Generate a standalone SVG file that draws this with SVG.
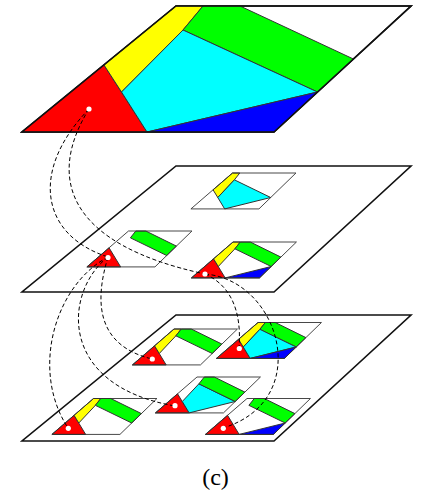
<svg xmlns="http://www.w3.org/2000/svg" xmlns:xlink="http://www.w3.org/1999/xlink" width="423" height="492" viewBox="0 0 423 492">
<style>
.plane{fill:#fff;stroke:#111;stroke-width:1.6;stroke-linejoin:miter}
.planeline{fill:none;stroke:#111;stroke-width:1.6;stroke-linejoin:miter}
.reg{stroke:#333;stroke-width:1;stroke-linejoin:round}
.frame{fill:none;stroke:#333;stroke-width:0.9}
.R{fill:#ff0000}.Y{fill:#ffff00}.G{fill:#00ff00}.C{fill:#00ffff}.B{fill:#0000ff}
.dot{fill:#fff;stroke:none}
.link{fill:none;stroke:#000;stroke-width:1;stroke-dasharray:4 2.5}
.cap{font-family:"Liberation Serif","Times New Roman",serif;font-size:24px;fill:#000}
</style>
<defs>
<path id="pQ" d="M0,0 L235,0 L98,126 L-154,126 Z" vector-effect="non-scaling-stroke"/>
<path id="pR" d="M-154,126 L-72,59 L-29,126 Z" vector-effect="non-scaling-stroke"/>
<path id="pY" d="M0,0 L27,0 L7,24 L-54.5,86 L-72,59 Z" vector-effect="non-scaling-stroke"/>
<path id="pG" d="M27,0 L64,0 L177.4,53 L141.5,86 L7,24 Z" vector-effect="non-scaling-stroke"/>
<path id="pC" d="M7,24 L141.5,86 L-29,126 L-54.5,86 Z" vector-effect="non-scaling-stroke"/>
<path id="pB" d="M-29,126 L141.5,86 L98,126 Z" vector-effect="non-scaling-stroke"/>
</defs>

<g id="layer-top" transform="translate(176,6)">
  <use href="#pQ" class="plane"/>
  <use href="#pR" class="R reg"/>
  <use href="#pY" class="Y reg"/>
  <use href="#pG" class="G reg"/>
  <use href="#pC" class="C reg"/>
  <use href="#pB" class="B reg"/>
  <use href="#pQ" class="planeline"/>
</g>

<g id="layer-middle" transform="translate(176,166)">
  <use href="#pQ" class="plane"/>
</g>

<g id="layer-bottom" transform="translate(176,315)">
  <use href="#pQ" class="plane"/>
</g>

<g id="m1" transform="matrix(0.27,0,0,0.285,232.5,173)">
  <use href="#pY" class="Y reg"/>
  <use href="#pC" class="C reg"/>
  <use href="#pQ" class="frame"/>
</g>
<g id="m2" transform="matrix(0.27,0,0,0.285,128.5,231)">
  <use href="#pR" class="R reg"/>
  <use href="#pG" class="G reg"/>
  <use href="#pQ" class="frame"/>
</g>
<g id="m3" transform="matrix(0.27,0,0,0.285,233,242)">
  <use href="#pR" class="R reg"/>
  <use href="#pY" class="Y reg"/>
  <use href="#pG" class="G reg"/>
  <use href="#pB" class="B reg"/>
  <use href="#pQ" class="frame"/>
</g>

<g id="b1" transform="matrix(0.27,0,0,0.285,174,329)">
  <use href="#pR" class="R reg"/>
  <use href="#pY" class="Y reg"/>
  <use href="#pG" class="G reg"/>
  <use href="#pQ" class="frame"/>
</g>
<g id="b2" transform="matrix(0.27,0,0,0.285,258,322.5)">
  <use href="#pR" class="R reg"/>
  <use href="#pY" class="Y reg"/>
  <use href="#pG" class="G reg"/>
  <use href="#pC" class="C reg"/>
  <use href="#pB" class="B reg"/>
  <use href="#pQ" class="frame"/>
</g>
<g id="b3" transform="matrix(0.27,0,0,0.285,93.5,398.5)">
  <use href="#pR" class="R reg"/>
  <use href="#pY" class="Y reg"/>
  <use href="#pG" class="G reg"/>
  <use href="#pQ" class="frame"/>
</g>
<g id="b4" transform="matrix(0.27,0,0,0.285,197,377)">
  <use href="#pR" class="R reg"/>
  <use href="#pC" class="C reg"/>
  <use href="#pG" class="G reg"/>
  <use href="#pQ" class="frame"/>
</g>
<g id="b5" transform="matrix(0.27,0,0,0.285,247,398.5)">
  <use href="#pR" class="R reg"/>
  <use href="#pG" class="G reg"/>
  <use href="#pB" class="B reg"/>
  <use href="#pQ" class="frame"/>
</g>

<g id="connectors">
  <path class="link" d="M89,109 C30,170 40,235 108,257"/>
  <path class="link" d="M89,109 C45,180 70,245 205,274"/>
  <path class="link" d="M108,257 C55,285 30,370 68,428"/>
  <path class="link" d="M108,257 C65,290 55,385 175,406"/>
  <path class="link" d="M108,257 C95,300 95,345 152,359"/>
  <path class="link" d="M205,274 C230,285 242,310 239,348"/>
  <path class="link" d="M205,274 C280,280 315,400 223,428"/>
</g>

<g id="dots">
  <circle class="dot" cx="89" cy="109" r="2.6"/>
  <circle class="dot" cx="108" cy="257.5" r="2.6"/>
  <circle class="dot" cx="205" cy="274" r="2.6"/>
  <circle class="dot" cx="152.3" cy="359" r="2.6"/>
  <circle class="dot" cx="239.3" cy="348.5" r="2.6"/>
  <circle class="dot" cx="68.3" cy="428.3" r="2.6"/>
  <circle class="dot" cx="175" cy="405.7" r="2.6"/>
  <circle class="dot" cx="223.3" cy="428.3" r="2.6"/>
</g>

<text class="cap" x="215.5" y="485" text-anchor="middle">(c)</text>
</svg>
